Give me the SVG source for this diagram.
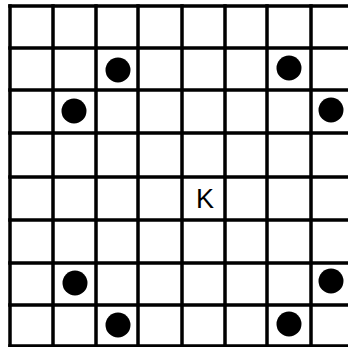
<svg xmlns="http://www.w3.org/2000/svg" width="348" height="347" viewBox="0 0 348 347">
<style>
.grid{stroke:#000;stroke-width:3.5;fill:none;stroke-linecap:square}
.dot{fill:#000}
.lbl{font-family:"Liberation Sans",Arial,sans-serif;font-size:27px;fill:#000;text-anchor:middle}
</style>
<rect width="348" height="347" fill="#fff"/>
<g id="grid" class="grid">
<path d="M10 6H350M10 48H350M10 90H350M10 133H350M10 177H350M10 220H350M10 263H350M10 305H350M10 346H350"/>
<path d="M10 6V346M53 6V346M96 6V346M138 6V346M182 6V346M225 6V346M267 6V346M311 6V346"/>
</g>
<g id="pieces">
<circle class="dot" cx="118" cy="70" r="12.5"/>
<circle class="dot" cx="289" cy="68" r="12.5"/>
<circle class="dot" cx="74" cy="111" r="12.5"/>
<circle class="dot" cx="331" cy="110" r="12.5"/>
<circle class="dot" cx="75" cy="283" r="12.5"/>
<circle class="dot" cx="331" cy="281" r="12.5"/>
<circle class="dot" cx="118" cy="325" r="12.5"/>
<circle class="dot" cx="289" cy="324" r="12.5"/>
</g>
<g id="knight">
<text class="lbl" x="205" y="208">K</text>
</g>
</svg>
